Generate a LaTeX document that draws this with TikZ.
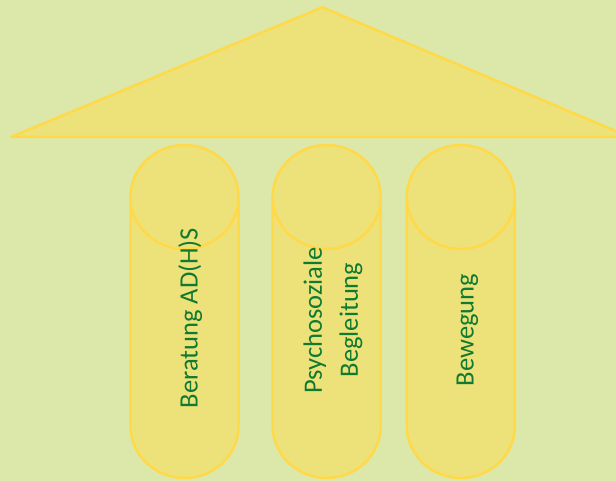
\documentclass[tikz,border=0pt]{standalone}
\usepackage{fontspec}
\setmainfont{Carlito}
\definecolor{bgc}{RGB}{220,232,170}
\definecolor{fillc}{RGB}{237,226,122}
\definecolor{linec}{RGB}{255,217,71}
\definecolor{txtc}{RGB}{16,122,48}
\tikzset{
  part/.style={fill=fillc, draw=linec, line width=2.5pt, line join=round},
  lbl/.style={rotate=90, anchor=base, inner sep=0pt, text=txtc, font=\fontsize{26.5}{31}\selectfont}
}
\newcommand{\pillar}[1]{%
  \draw[part] (#1-54pt,284pt) -- (#1-54pt,55pt) arc[start angle=180, end angle=360, x radius=54pt, y radius=52pt] -- (#1+54pt,284pt) -- cycle;
  \draw[part] (#1,284pt) ellipse[x radius=54pt, y radius=52pt];
}
\begin{document}
\begin{tikzpicture}[x=1pt,y=1pt]
\useasboundingbox (0,0) rectangle (616,481);
\fill[bgc] (0,0) rectangle (616,481);
\clip (0,0) rectangle (616,481);
\draw[part] (11,344) -- (322.3,473.7) -- (630,344) -- cycle;
\pillar{184.5pt}
\pillar{326.7pt}
\pillar{460.8pt}
\node[lbl] (t1) at (197.6,163) {Beratung AD(H)S};
\node[lbl] (t2a) at (321.9,160.5) {Psychosoziale};
\node[lbl] (t2b) at (357.9,161) {Begleitung};
\node[lbl] (t3) at (473.6,151) {Bewegung};
\end{tikzpicture}
\end{document}
